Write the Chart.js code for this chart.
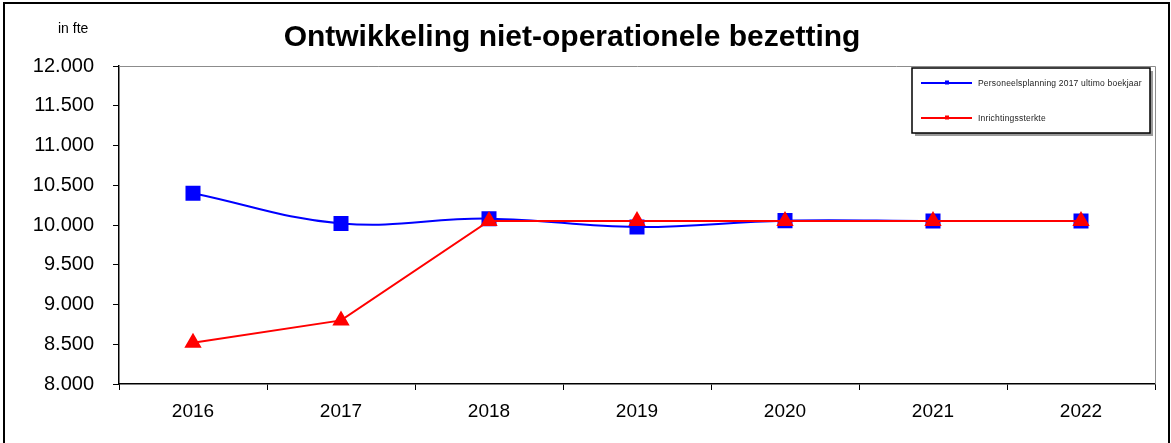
<!DOCTYPE html>
<html>
<head>
<meta charset="utf-8">
<script src="https://cdn.jsdelivr.net/npm/chart.js@4/dist/chart.umd.min.js"></script>
<style>
  html, body { margin: 0; padding: 0; background: #fff; }
  #wrap { width: 1171px; height: 443px; position: relative; }
</style>
</head>
<body>
<div id="wrap"><canvas id="myChart" width="1171" height="443"></canvas></div>
<script>
const years = ['2016', '2017', '2018', '2019', '2020', '2021', '2022'];
const planning = [10400, 10020, 10080, 9975, 10055, 10050, 10050];
const inrichting = [8520, 8800, 10050, 10050, 10050, 10050, 10050];
const yTicks = [8000, 8500, 9000, 9500, 10000, 10500, 11000, 11500, 12000];
const titleText = 'Ontwikkeling niet-operationele bezetting';
const unitText = 'in fte';

const FONT = "'Liberation Sans', Arial, sans-serif";

function fmt(v) {
    return String(v).replace(/\B(?=(\d{3})+(?!\d))/g, '.');
}

// frame, title, unit label, plot border and the boxed legend
const decor = {
    id: 'decor',
    beforeDraw(chart) {
        const ctx = chart.ctx;
        ctx.save();
        ctx.fillStyle = '#fff';
        ctx.fillRect(0, 0, chart.width, chart.height);
        ctx.restore();
    },
    afterDraw(chart) {
        const ctx = chart.ctx;
        const a = chart.chartArea;
        ctx.save();
        // outer frame
        ctx.strokeStyle = '#000';
        ctx.lineWidth = 2;
        ctx.strokeRect(4, 3, 1165, 460);
        // grey plot border top + right
        ctx.strokeStyle = '#8c8c8c';
        ctx.lineWidth = 1;
        ctx.beginPath();
        ctx.moveTo(a.left, a.top + 0.5);
        ctx.lineTo(a.right + 0.5, a.top + 0.5);
        ctx.lineTo(a.right + 0.5, a.bottom);
        ctx.stroke();
        // title
        ctx.fillStyle = '#000';
        ctx.font = 'bold 30px ' + FONT;
        ctx.textAlign = 'center';
        ctx.textBaseline = 'alphabetic';
        ctx.fillText(titleText, 572, 46);
        // unit
        ctx.font = '14px ' + FONT;
        ctx.textAlign = 'left';
        ctx.fillText(unitText, 58, 33);

        // legend box
        const lx = 912, ly = 68, lw = 238, lh = 65;
        ctx.fillStyle = '#9a9a9a';
        ctx.fillRect(lx + 3, ly + 3, lw, lh);
        ctx.fillStyle = '#fff';
        ctx.fillRect(lx, ly, lw, lh);
        ctx.strokeStyle = '#000';
        ctx.lineWidth = 1.5;
        ctx.strokeRect(lx, ly, lw, lh);
        const rows = [83, 118];
        chart.data.datasets.forEach((ds, i) => {
            const y = rows[i];
            ctx.strokeStyle = ds.borderColor;
            ctx.lineWidth = 2;
            ctx.beginPath();
            ctx.moveTo(921, y);
            ctx.lineTo(972, y);
            ctx.stroke();
            ctx.fillStyle = ds.borderColor;
            ctx.fillRect(945, y - 2.5, 4, 4);
            ctx.fillStyle = '#222';
            ctx.font = '8.5px ' + FONT;
            ctx.letterSpacing = '0.2px';
            ctx.textBaseline = 'middle';
            ctx.fillText(ds.label, 978, y + 0.5);
            ctx.letterSpacing = '0px';
        });
        ctx.restore();
    }
};

new Chart(document.getElementById('myChart'), {
    type: 'line',
    data: {
        labels: years,
        datasets: [{
            label: 'Personeelsplanning 2017 ultimo boekjaar',
            data: planning,
            borderColor: '#0000ff',
            backgroundColor: '#0000ff',
            borderWidth: 2,
            tension: 0.4,
            pointStyle: 'rect',
            pointRadius: 9.2,
            pointHoverRadius: 9.2,
            order: 2
        }, {
            label: 'Inrichtingssterkte',
            data: inrichting,
            borderColor: '#ff0000',
            backgroundColor: '#ff0000',
            borderWidth: 2,
            tension: 0,
            pointStyle: 'triangle',
            pointRadius: 8,
            pointHoverRadius: 8,
            order: 1
        }]
    },
    options: {
        responsive: false,
        animation: false,
        events: [],
        layout: { padding: { left: 0, right: 16, top: 66, bottom: 0 } },
        plugins: {
            legend: { display: false },
            title: { display: false },
            tooltip: { enabled: false }
        },
        scales: {
            x: {
                offset: true,
                grid: {
                    offset: true,
                    drawOnChartArea: false,
                    drawTicks: true,
                    tickLength: 6,
                    color: '#000',
                    lineWidth: 1
                },
                border: { color: '#000', width: 1.5 },
                ticks: {
                    color: '#000',
                    font: { family: FONT, size: 19 },
                    padding: 10,
                    autoSkip: false,
                    maxRotation: 0
                },
                afterFit(scale) { scale.height = 59; }
            },
            y: {
                min: 8000,
                max: 12000,
                grid: {
                    drawOnChartArea: false,
                    drawTicks: true,
                    tickLength: 6,
                    color: '#000',
                    lineWidth: 1
                },
                border: { color: '#000', width: 1.5 },
                afterBuildTicks(scale) {
                    scale.ticks = yTicks.map(v => ({ value: v }));
                },
                ticks: {
                    color: '#000',
                    font: { family: FONT, size: 20 },
                    padding: 19,
                    callback: v => fmt(v)
                },
                afterFit(scale) { scale.width = 119; }
            }
        }
    },
    plugins: [decor]
});
</script>
</body>
</html>
